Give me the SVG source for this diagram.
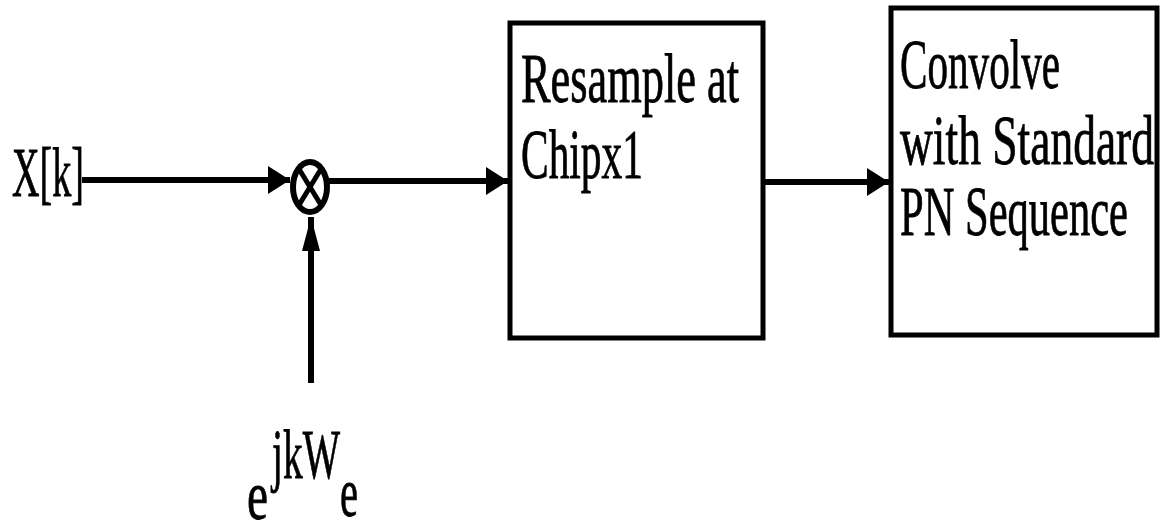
<svg xmlns="http://www.w3.org/2000/svg" width="1161" height="527" viewBox="0 0 1161 527">
<style>
.t{font-family:"Liberation Serif","DejaVu Serif",serif;font-size:70px;fill:#000;stroke:#000;stroke-width:0.8}
.box{fill:#fff;stroke:#000;stroke-width:5}
.ln{stroke:#000;stroke-width:6;fill:none}
</style>
<defs>
<marker id="ah" markerUnits="userSpaceOnUse" markerWidth="24" markerHeight="28" refX="22" refY="14" orient="auto">
<path d="M0,0 L22,14 L0,28 Z" fill="#000"/>
</marker>
<marker id="ahv" markerUnits="userSpaceOnUse" markerWidth="36" markerHeight="20" refX="34" refY="10" orient="auto">
<path d="M0,1 L34,10 L0,19 Z" fill="#000"/>
</marker>
</defs>
<g id="connectors">
<line class="ln" x1="82" y1="180" x2="290" y2="180" marker-end="url(#ah)"/>
<line class="ln" x1="328" y1="181" x2="508" y2="181" marker-end="url(#ah)"/>
<line class="ln" x1="311" y1="383" x2="311" y2="217" stroke-width="5" marker-end="url(#ahv)"/>
<line class="ln" x1="764" y1="182" x2="889" y2="182" marker-end="url(#ah)"/>
</g>
<g id="input">
<text class="t" x="12" y="196" textLength="72" lengthAdjust="spacingAndGlyphs">X[k]</text>
</g>
<g id="mixer">
<ellipse cx="310" cy="187" rx="17" ry="25" fill="#fff" stroke="#000" stroke-width="6"/>
<line x1="299" y1="169" x2="321" y2="205" stroke="#000" stroke-width="5"/>
<line x1="321" y1="169" x2="299" y2="205" stroke="#000" stroke-width="5"/>
</g>
<g id="exp">
<text class="t" x="247" y="519" font-size="60" textLength="21" lengthAdjust="spacingAndGlyphs">e</text>
<text class="t" x="272" y="478" font-size="62" textLength="68" lengthAdjust="spacingAndGlyphs">jkW</text>
<text class="t" x="340" y="516" font-size="60" textLength="18" lengthAdjust="spacingAndGlyphs">e</text>
</g>
<g id="resample">
<rect class="box" x="510" y="23" width="253" height="315"/>
<text class="t" x="521" y="102" textLength="218" lengthAdjust="spacingAndGlyphs">Resample at</text>
<text class="t" x="521" y="178" textLength="122" lengthAdjust="spacingAndGlyphs">Chipx1</text>
</g>
<g id="convolve">
<rect class="box" x="891" y="8" width="266" height="327"/>
<text class="t" x="900" y="88" textLength="160" lengthAdjust="spacingAndGlyphs">Convolve</text>
<text class="t" x="900" y="164" textLength="254" lengthAdjust="spacingAndGlyphs">with Standard</text>
<text class="t" x="900" y="235" textLength="228" lengthAdjust="spacingAndGlyphs">PN Sequence</text>
</g>
</svg>
